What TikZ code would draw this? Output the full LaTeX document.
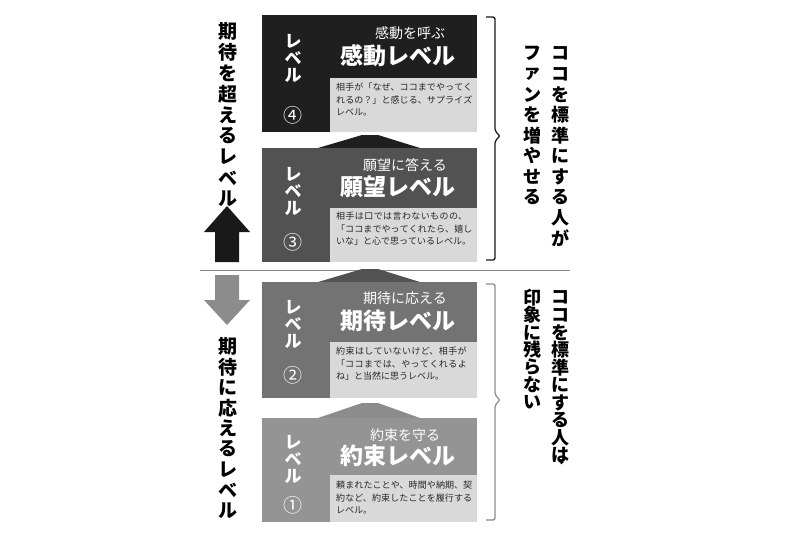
\documentclass[tikz,border=0pt]{standalone}
\usepackage{fontspec}
\setmainfont{Noto Sans CJK JP}
\XeTeXlinebreaklocale "ja"
\XeTeXlinebreakskip=0pt plus 1pt
\usetikzlibrary{positioning}

\tikzset{
  descbox/.style={fill=black!15, draw=none},
  desctext/.style={anchor=north west, align=left, text width=138pt, font=\fontsize{9}{12.5}\selectfont, text=black!85, inner sep=0pt},
  subtitle/.style={font=\fontsize{14}{14}\selectfont, text=white},
  bigtitle/.style={font=\bfseries\fontsize{23}{23}\selectfont, text=white},
  vlevel/.style={font=\bfseries\fontsize{17}{17}\selectfont, text=white, inner sep=0pt},
  circnum/.style={font=\fontsize{19}{19}\selectfont, text=white, inner sep=0pt},
  sidetext/.style={font=\bfseries\fontsize{19}{19}\selectfont, inner sep=0pt},
  righttext/.style={font=\bfseries\fontsize{18}{18}\selectfont, inner sep=0pt},
  bracket/.style={line width=1.3pt, rounded corners=2pt}
}

\begin{document}
\begin{tikzpicture}[x=1pt, y=-1pt]
  \useasboundingbox (0,0) rectangle (800,533);

  % Level 4
  \fill[black!88] (262,15) rectangle (477,132);
  \fill[descbox] (330,78) rectangle (477,132);
  \foreach \c [count=\i] in {レ,ベ,ル}
    \node[vlevel] (v4\i) at (293,24+17*\i) {\c};
  \node[circnum] (n4) at (293,115) {④};
  \node[subtitle] (s4) at (410,33) {感動を呼ぶ};
  \node[bigtitle] (t4) at (398,56) {感動レベル};
  \node[desctext] (d4) at (336,83) {相手が「なぜ、ココまでやってくれるの？」と感じる、サプライズレベル。};

  % arrow 4 to 3
  \fill[black!88] (362,135) -- (378,135) -- (420,148) -- (318,148) -- cycle;

  % Level 3
  \fill[black!68] (262,148) rectangle (477,262);
  \fill[descbox] (330,208) rectangle (477,262);
  \foreach \c [count=\i] in {レ,ベ,ル}
    \node[vlevel] (v3\i) at (293,157+17*\i) {\c};
  \node[circnum] (n3) at (293,242) {③};
  \node[subtitle] (s3) at (405,165) {願望に答える};
  \node[bigtitle] (t3) at (398,187) {願望レベル};
  \node[desctext] (d3) at (336,212) {相手は口では言わないものの、「ココまでやってくれたら、嬉しいな」と心で思っているレベル。};

  % separator
  \draw[black!45, line width=0.8pt] (200,270) -- (570,270);

  % arrow 3 to 2
  \fill[black!68] (362,269) -- (378,269) -- (420,282) -- (318,282) -- cycle;

  % Level 2
  \fill[black!55] (262,282) rectangle (477,398);
  \fill[descbox] (330,342) rectangle (477,398);
  \foreach \c [count=\i] in {レ,ベ,ル}
    \node[vlevel] (v2\i) at (293,290+17*\i) {\c};
  \node[circnum] (n2) at (293,375) {②};
  \node[subtitle] (s2) at (405,298) {期待に応える};
  \node[bigtitle] (t2) at (398,321) {期待レベル};
  \node[desctext] (d2) at (336,347) {約束はしていないけど、相手が「ココまでは、やってくれるよね」と当然に思うレベル。};

  % arrow 2 to 1
  \fill[black!45] (362,403) -- (378,403) -- (420,418) -- (318,418) -- cycle;

  % Level 1
  \fill[black!42] (262,418) rectangle (477,522);
  \fill[descbox] (330,475) rectangle (477,522);
  \foreach \c [count=\i] in {レ,ベ,ル}
    \node[vlevel] (v1\i) at (293,425+17*\i) {\c};
  \node[circnum] (n1) at (293,505) {①};
  \node[subtitle] (s1) at (405,435) {約束を守る};
  \node[bigtitle] (t1) at (398,456) {約束レベル};
  \node[desctext] (d1) at (336,481) {頼まれたことや、時間や納期、契約など、約束したことを履行するレベル。};

  % left side
  \foreach \c [count=\i] in {期,待,を,超,え,る,レ,ベ,ル}
    \node[sidetext] (up\i) at (228,10+21*\i) {\c};
  \fill[black!90] (215,262) -- (239,262) -- (239,232) -- (250,232) -- (227,206) -- (204,232) -- (215,232) -- cycle;
  \fill[black!45] (215,275) -- (239,275) -- (239,300) -- (250,300) -- (227,325) -- (204,300) -- (215,300) -- cycle;
  \foreach \c [count=\i] in {期,待,に,応,え,る,レ,ベ,ル}
    \node[sidetext] (dn\i) at (228,326+20.5*\i) {\c};

  % right brackets
  \draw[bracket, black!90] (486,17) -- (495,17) -- (495,131) -- (500,136) -- (495,141) -- (495,260) -- (486,260);
  \draw[bracket, black!45] (486,284) -- (495,284) -- (495,395) -- (500,400) -- (495,405) -- (495,520) -- (486,520);
  \foreach \c [count=\i] in {コ,コ,を,標,準,に,す,る,人,が}
    \node[righttext] (ra\i) at (560,33+20.5*\i) {\c};
  \foreach \c [count=\i] in {フ,ァ,ン,を,増,や,せ,る}
    \node[righttext] (rb\i) at (532,33+20.5*\i) {\c};
  \foreach \c [count=\i] in {コ,コ,を,標,準,に,す,る,人,は}
    \node[righttext] (rc\i) at (560,280+17.5*\i) {\c};
  \node[righttext] (rc11) at (566,462) {、};
  \foreach \c [count=\i] in {印,象,に,残,ら,な,い}
    \node[righttext] (rd\i) at (532,280+17.5*\i) {\c};
\end{tikzpicture}
\end{document}
